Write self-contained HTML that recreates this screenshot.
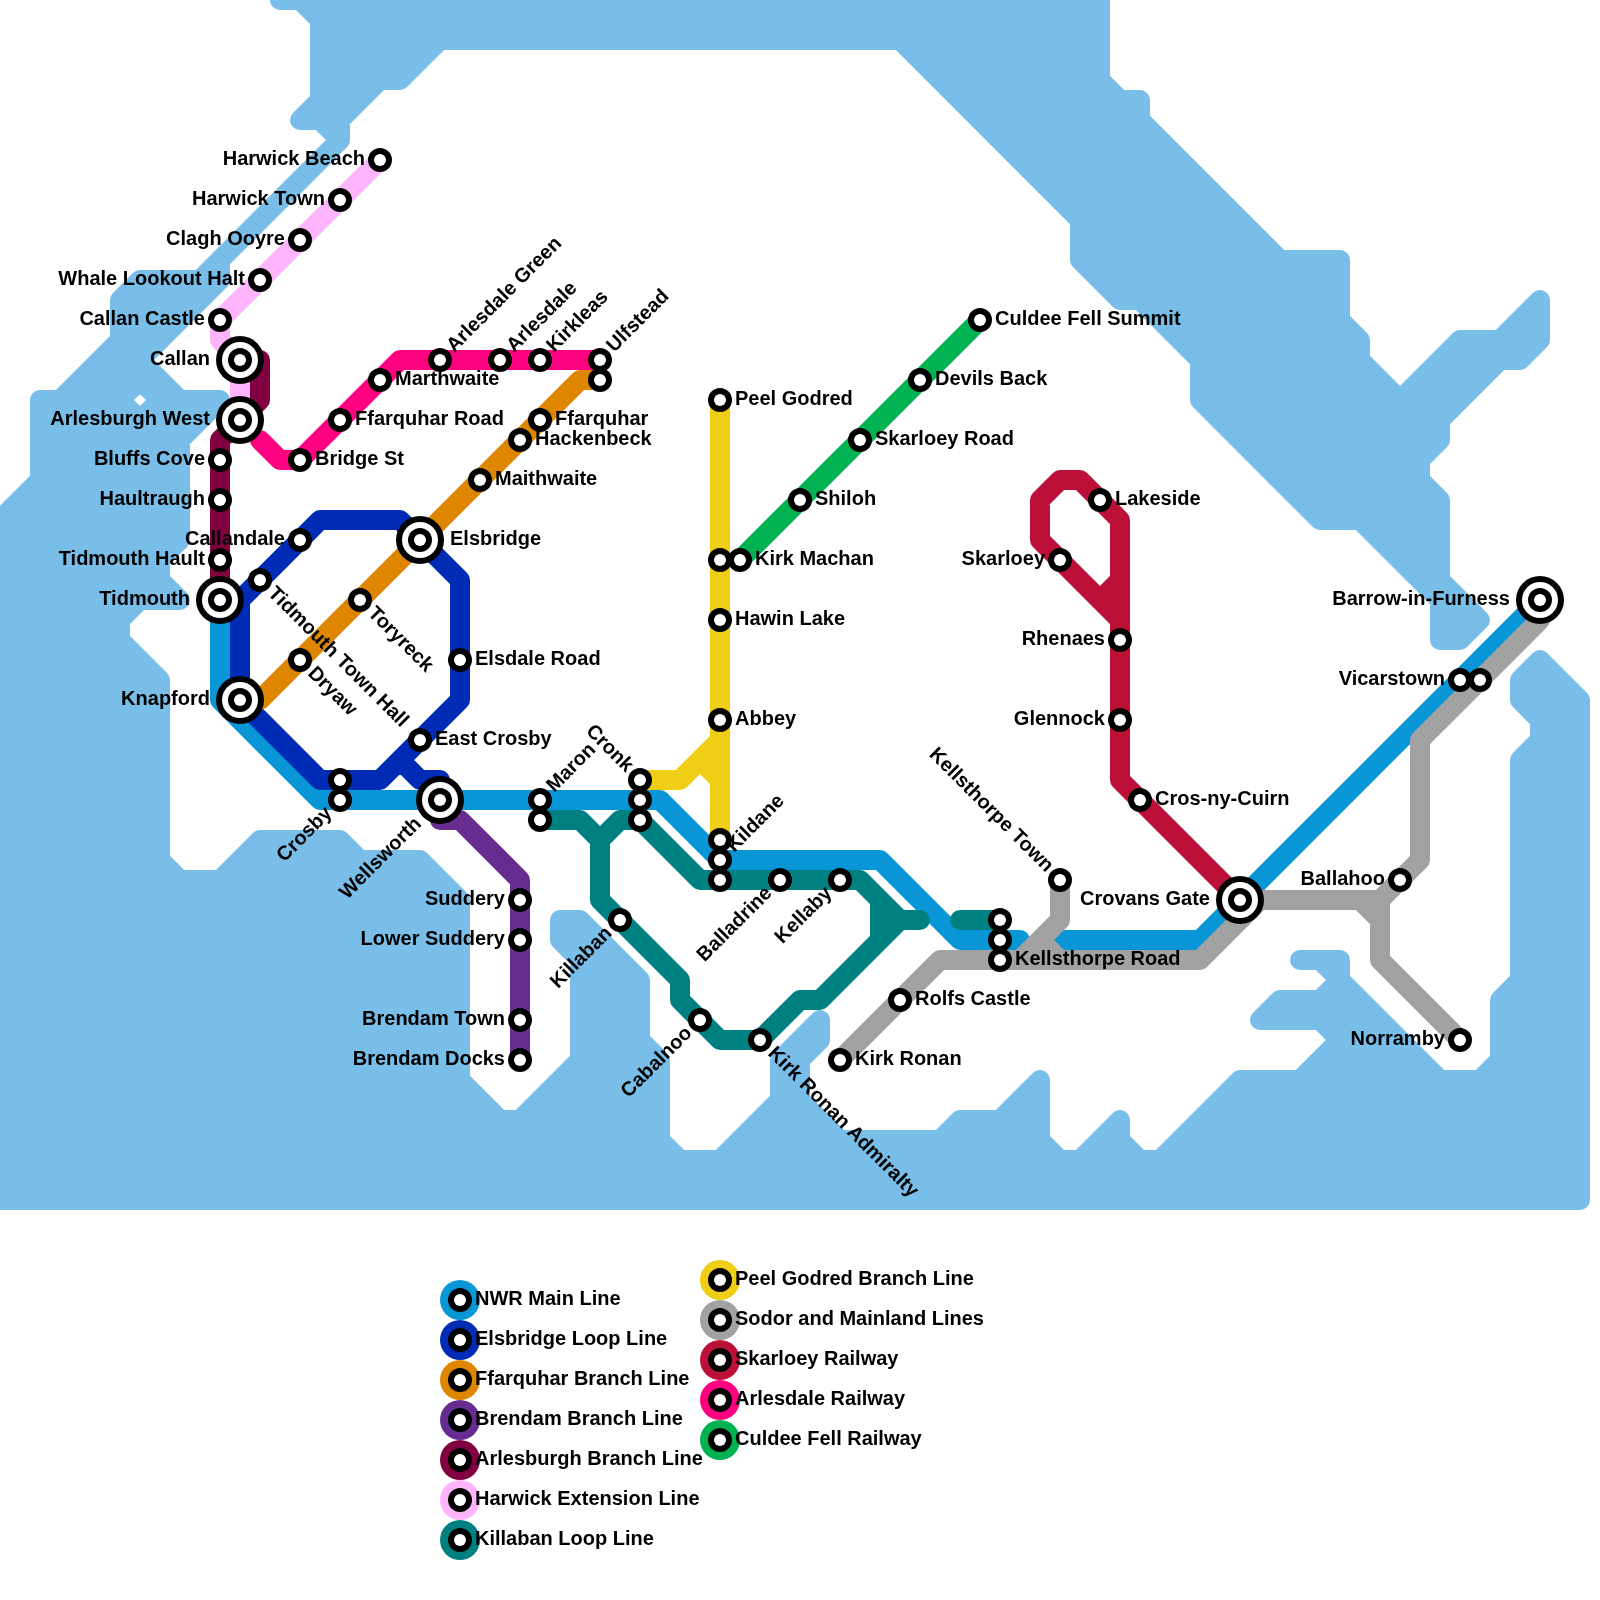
<!DOCTYPE html>
<html lang="en">
<head>
<meta charset="utf-8">
<title>Island of Sodor Railway Map</title>
<style>
html,body{margin:0;padding:0;background:#fff;}
body{width:1600px;height:1600px;overflow:hidden;}
svg{display:block;will-change:transform;}
text{font-family:"Liberation Sans",sans-serif;font-weight:700;font-size:20px;fill:#000;}
.ln{fill:none;stroke-width:20;stroke-linecap:round;stroke-linejoin:round;}
</style>
</head>
<body>
<svg width="1600" height="1600" viewBox="0 0 1600 1600">
<rect width="1600" height="1600" fill="#ffffff"/>
<g id="water"><path class="ln" stroke="#79bde9" d="M0 520L180 520M0 540L180 540M0 560L160 560M0 580L160 580M0 600L180 600M0 620L120 620M0 640L120 640M0 660L140 660M0 680L160 680M0 700L160 700M0 720L160 720M0 740L160 740M0 760L160 760M0 780L160 780M0 800L160 800M0 820L160 820M0 840L160 840M0 860L160 860M0 880L440 880M0 900L460 900M0 920L460 920M0 940L460 940M0 960L460 960M0 980L460 980M0 1000L460 1000M0 1020L460 1020M0 1040L460 1040M0 1060L460 1060M0 1080L460 1080M0 1100L480 1100M0 1120L660 1120M0 1140L660 1140M0 1160L1580 1160M0 1180L1580 1180M0 1200L1580 1200M20 500L180 500M40 400L120 400M40 420L200 420M40 440L180 440M40 460L180 460M40 480L180 480M80 380L160 380M100 360L140 360M120 300L200 300M120 320L180 320M120 340L160 340M140 280L220 280M160 400L220 400M240 860L420 860M260 840L340 840M280 0L1100 0M300 120L340 120M320 20L1100 20M320 40L1100 40M320 60L420 60M320 80L400 80M320 100L360 100M540 1100L660 1100M560 920L580 920M560 940L600 940M560 1080L660 1080M580 960L620 960M580 980L640 980M580 1000L640 1000M580 1020L640 1020M580 1040L640 1040M580 1060L660 1060M740 1140L1040 1140M760 1120L820 1120M780 1060L800 1060M780 1080L800 1080M780 1100L800 1100M800 1040L820 1040M920 60L1100 60M940 80L1100 80M960 100L1140 100M960 1120L1040 1120M980 120L1140 120M1000 140L1160 140M1020 160L1180 160M1020 1100L1040 1100M1040 180L1200 180M1060 200L1220 200M1080 220L1240 220M1080 240L1260 240M1080 260L1340 260M1100 280L1340 280M1100 1140L1120 1140M1120 300L1340 300M1160 320L1340 320M1180 340L1360 340M1180 1140L1580 1140M1200 360L1360 360M1200 380L1380 380M1200 400L1460 400M1200 1120L1580 1120M1220 420L1440 420M1220 1100L1580 1100M1240 440L1440 440M1240 1080L1580 1080M1260 460L1420 460M1260 1020L1380 1020M1280 480L1420 480M1280 1000L1360 1000M1300 500L1440 500M1300 960L1340 960M1320 520L1440 520M1320 1060L1420 1060M1340 1040L1400 1040M1380 540L1440 540M1400 560L1440 560M1420 380L1480 380M1420 580L1440 580M1440 360L1520 360M1440 600L1460 600M1440 620L1480 620M1440 640L1460 640M1460 340L1540 340M1500 1000L1580 1000M1500 1020L1580 1020M1500 1040L1580 1040M1500 1060L1580 1060M1520 320L1540 320M1520 680L1560 680M1520 700L1580 700M1520 760L1580 760M1520 780L1580 780M1520 800L1580 800M1520 820L1580 820M1520 840L1580 840M1520 860L1580 860M1520 880L1580 880M1520 900L1580 900M1520 920L1580 920M1520 940L1580 940M1520 960L1580 960M1520 980L1580 980M1540 720L1580 720M1540 740L1580 740M0 520L0 1200M20 500L20 1200M40 400L40 1200M60 400L60 1200M80 380L80 1200M100 360L100 1200M120 300L120 1200M140 280L140 380M140 420L140 600M140 660L140 1200M160 280L160 340M160 380L160 600M160 680L160 1200M180 280L180 320M180 400L180 540M180 880L180 1200M200 280L200 300M200 400L200 420M200 880L200 1200M220 260L220 280M220 880L220 1200M240 860L240 1200M260 840L260 1200M280 840L280 1200M300 840L300 1200M320 0L320 120M320 840L320 1200M340 0L340 140M340 840L340 1200M360 0L360 100M360 860L360 1200M380 0L380 80M380 860L380 1200M400 0L400 80M400 860L400 1200M420 0L420 60M420 860L420 1200M440 0L440 40M440 880L440 1200M460 0L460 40M460 900L460 1200M480 0L480 40M480 1100L480 1200M500 0L500 40M500 1120L500 1200M520 0L520 40M520 1120L520 1200M540 0L540 40M540 1100L540 1200M560 0L560 40M560 920L560 940M560 1080L560 1200M580 0L580 40M580 920L580 1200M600 0L600 40M600 940L600 1200M620 0L620 40M620 960L620 1200M640 0L640 40M640 980L640 1200M660 0L660 40M660 1060L660 1200M680 0L680 40M680 1160L680 1200M700 0L700 40M700 1160L700 1200M720 0L720 40M720 1160L720 1200M740 0L740 40M740 1140L740 1200M760 0L760 40M760 1120L760 1200M780 0L780 40M780 1060L780 1200M800 0L800 40M800 1040L800 1200M820 0L820 40M820 1020L820 1040M820 1120L820 1200M840 0L840 40M840 1140L840 1200M860 0L860 40M860 1140L860 1200M880 0L880 40M880 1140L880 1200M900 0L900 40M900 1140L900 1200M920 0L920 60M920 1140L920 1200M940 0L940 80M940 1140L940 1200M960 0L960 100M960 1120L960 1200M980 0L980 120M980 1120L980 1200M1000 0L1000 140M1000 1120L1000 1200M1020 0L1020 160M1020 1100L1020 1200M1040 0L1040 180M1040 1080L1040 1200M1060 0L1060 200M1060 1160L1060 1200M1080 0L1080 260M1080 1160L1080 1200M1100 0L1100 280M1100 1140L1100 1200M1120 100L1120 300M1120 1120L1120 1200M1140 100L1140 300M1140 1160L1140 1200M1160 140L1160 320M1160 1160L1160 1200M1180 160L1180 340M1180 1140L1180 1200M1200 180L1200 400M1200 1120L1200 1200M1220 200L1220 420M1220 1100L1220 1200M1240 220L1240 440M1240 1080L1240 1200M1260 240L1260 460M1260 1080L1260 1200M1280 260L1280 480M1280 1000L1280 1020M1280 1080L1280 1200M1300 260L1300 500M1300 1000L1300 1020M1300 1080L1300 1200M1320 260L1320 520M1320 1000L1320 1020M1320 1060L1320 1200M1340 260L1340 520M1340 960L1340 1200M1360 340L1360 520M1360 1000L1360 1200M1380 380L1380 540M1380 1020L1380 1200M1400 400L1400 560M1400 1040L1400 1200M1420 380L1420 580M1420 1060L1420 1200M1440 360L1440 440M1440 500L1440 640M1440 1080L1440 1200M1460 340L1460 400M1460 600L1460 640M1460 1080L1460 1200M1480 340L1480 380M1480 1080L1480 1200M1500 340L1500 360M1500 1000L1500 1200M1520 320L1520 360M1520 680L1520 700M1520 760L1520 1200M1540 300L1540 340M1540 660L1540 1200M1560 680L1560 1200M1580 700L1580 1200M0 520L160 680M0 540L160 700M0 560L160 720M0 580L160 740M0 600L160 760M0 620L160 780M0 640L160 800M0 660L160 820M0 680L160 840M0 700L500 1200M0 720L480 1200M0 740L460 1200M0 760L440 1200M0 780L420 1200M0 800L400 1200M0 820L380 1200M0 840L360 1200M0 860L340 1200M0 880L320 1200M0 900L300 1200M0 920L280 1200M0 940L260 1200M0 960L240 1200M0 980L220 1200M0 1000L200 1200M0 1020L180 1200M0 1040L160 1200M0 1060L140 1200M0 1080L120 1200M0 1100L100 1200M0 1120L80 1200M0 1140L60 1200M0 1160L40 1200M0 1180L20 1200M20 500L120 600M20 520L120 620M40 400L180 540M40 420L160 540M40 440L160 560M40 460L180 600M40 480L160 600M40 500L140 600M60 400L180 520M80 380L180 480M80 400L180 500M100 360L120 380M100 380L180 460M120 300L160 340M120 320L140 340M120 340L200 420M120 360L180 420M140 280L180 320M140 300L160 320M160 280L180 300M160 420L180 440M180 280L200 300M200 880L520 1200M220 880L540 1200M240 860L580 1200M240 880L560 1200M260 840L460 1040M260 860L460 1060M280 840L460 1020M300 0L380 80M300 840L460 1000M320 0L400 80M320 40L360 80M320 60L360 100M320 80L340 100M320 100L340 120M320 120L340 140M320 840L460 980M340 0L400 60M340 840L460 960M360 0L420 60M380 0L420 40M380 860L460 940M400 0L440 40M400 860L460 920M420 0L460 40M420 860L460 900M440 0L480 40M460 0L500 40M480 0L520 40M500 0L540 40M520 0L560 40M520 1120L600 1200M540 0L580 40M540 1100L640 1200M540 1120L620 1200M560 0L600 40M560 920L640 1000M560 940L640 1020M560 1080L680 1200M560 1100L660 1200M580 0L620 40M580 920L640 980M580 980L660 1060M580 1000L660 1080M580 1020L660 1100M580 1040L660 1120M580 1060L720 1200M580 1080L700 1200M600 0L640 40M620 0L660 40M640 0L680 40M660 0L700 40M680 0L720 40M700 0L740 40M700 1160L740 1200M720 0L760 40M720 1160L760 1200M740 0L780 40M740 1140L800 1200M740 1160L780 1200M760 0L800 40M760 1120L840 1200M760 1140L820 1200M780 0L820 40M780 1060L800 1080M780 1080L900 1200M780 1100L880 1200M780 1120L860 1200M800 0L840 40M820 0L860 40M840 0L880 40M860 0L1480 620M860 1140L920 1200M880 0L1440 560M880 1140L940 1200M900 0L1440 540M900 1140L960 1200M920 0L1440 520M920 1140L980 1200M940 0L1440 500M940 1140L1000 1200M960 0L1420 460M960 1120L1040 1200M960 1140L1020 1200M980 0L1420 440M980 1120L1060 1200M1000 0L1440 440M1000 1120L1080 1200M1020 0L1360 340M1020 1100L1040 1120M1020 1120L1100 1200M1040 0L1100 60M1060 0L1100 40M1080 0L1100 20M1080 240L1460 620M1080 260L1120 300M1080 1160L1120 1200M1100 1140L1160 1200M1100 1160L1140 1200M1120 1140L1180 1200M1160 1160L1200 1200M1180 1140L1240 1200M1180 1160L1220 1200M1200 380L1340 520M1200 400L1320 520M1200 1120L1280 1200M1200 1140L1260 1200M1220 1100L1320 1200M1220 1120L1300 1200M1240 1080L1360 1200M1240 1100L1340 1200M1260 1080L1380 1200M1280 1000L1300 1020M1280 1080L1400 1200M1300 260L1340 300M1300 1000L1500 1200M1300 1080L1420 1200M1320 260L1340 280M1320 960L1560 1200M1320 1000L1520 1200M1320 1060L1460 1200M1320 1080L1440 1200M1340 1000L1540 1200M1340 1060L1480 1200M1420 380L1440 400M1420 400L1440 420M1440 360L1460 380M1440 380L1460 400M1440 620L1460 640M1460 340L1480 360M1460 360L1480 380M1460 1080L1580 1200M1480 340L1500 360M1480 1080L1580 1180M1500 340L1520 360M1500 1000L1580 1080M1500 1020L1580 1100M1500 1040L1580 1120M1500 1060L1580 1140M1500 1080L1580 1160M1520 320L1540 340M1520 680L1580 740M1520 700L1580 760M1520 760L1580 820M1520 780L1580 840M1520 800L1580 860M1520 820L1580 880M1520 840L1580 900M1520 860L1580 920M1520 880L1580 940M1520 900L1580 960M1520 920L1580 980M1520 940L1580 1000M1520 960L1580 1020M1520 980L1580 1040M1520 1000L1580 1060M1540 660L1580 700M1540 680L1580 720M1540 740L1580 780M1540 760L1580 800M0 520L140 380M0 540L120 420M0 560L160 400M0 580L180 400M0 600L200 400M0 620L220 400M0 640L180 460M0 660L180 480M0 680L180 500M0 700L180 520M0 720L180 540M0 740L160 580M0 760L120 640M0 780L120 660M0 800L140 660M0 820L140 680M0 840L160 680M0 860L160 700M0 880L160 720M0 900L160 740M0 920L160 760M0 940L160 780M0 960L160 800M0 980L160 820M0 1000L160 840M0 1020L160 860M0 1040L160 880M0 1060L180 880M0 1080L200 880M0 1100L260 840M0 1120L280 840M0 1140L300 840M0 1160L320 840M0 1180L340 840M0 1200L340 860M20 1200L360 860M40 420L180 280M40 440L340 140M40 460L220 280M40 1200L380 860M60 1200L400 860M80 1200L420 860M100 1200L420 880M120 300L140 280M120 320L160 280M120 1200L440 880M140 1200L440 900M160 1200L460 900M180 1200L460 920M200 1200L460 940M220 1200L460 960M240 1200L460 980M260 1200L460 1000M280 1200L460 1020M300 120L420 0M300 1200L460 1040M320 20L340 0M320 40L360 0M320 60L380 0M320 80L400 0M320 120L440 0M320 1200L460 1060M340 120L460 0M340 1200L460 1080M360 1200L460 1100M380 1200L480 1100M400 80L480 0M400 1200L480 1120M420 1200L500 1120M440 1200L640 1000M460 40L500 0M460 1200L640 1020M480 40L520 0M480 1200L640 1040M500 40L540 0M500 1200L640 1060M520 40L560 0M520 1200L660 1060M540 40L580 0M540 1200L660 1080M560 40L600 0M560 940L580 920M560 1200L660 1100M580 40L620 0M580 960L600 940M580 980L600 960M580 1000L620 960M580 1020L620 980M580 1040L640 980M580 1200L660 1120M600 40L640 0M600 1200L660 1140M620 40L660 0M620 1200L660 1160M640 40L680 0M640 1200L680 1160M660 40L700 0M660 1200L700 1160M680 40L720 0M680 1200L800 1080M700 40L740 0M700 1200L800 1100M720 40L760 0M720 1200L800 1120M740 40L780 0M740 1200L820 1120M760 40L800 0M760 1200L820 1140M780 40L820 0M780 1060L820 1020M780 1080L820 1040M780 1200L840 1140M800 40L840 0M800 1200L860 1140M820 40L860 0M820 1200L880 1140M840 40L880 0M840 1200L900 1140M860 40L900 0M860 1200L920 1140M880 40L920 0M880 1200L960 1120M900 40L940 0M900 1200L980 1120M920 40L960 0M920 60L980 0M920 1200L1040 1080M940 60L1000 0M940 80L1020 0M940 1200L1040 1100M960 80L1040 0M960 100L1060 0M960 1200L1040 1120M980 100L1080 0M980 120L1100 0M980 1200L1040 1140M1000 120L1100 20M1000 140L1100 40M1000 1200L1040 1160M1020 140L1100 60M1020 160L1100 80M1020 1200L1060 1160M1040 160L1100 100M1040 180L1120 100M1040 1200L1120 1120M1060 180L1140 100M1060 200L1140 120M1060 1200L1120 1140M1080 200L1140 140M1080 220L1160 140M1080 240L1160 160M1080 260L1180 160M1080 1200L1120 1160M1100 260L1180 180M1100 280L1200 180M1100 1200L1140 1160M1120 280L1200 200M1120 300L1220 200M1120 1200L1240 1080M1140 300L1220 220M1140 1200L1260 1080M1160 300L1240 220M1160 320L1240 240M1160 1200L1280 1080M1180 320L1260 240M1180 340L1260 260M1180 1200L1360 1020M1200 340L1280 260M1200 360L1300 260M1200 380L1320 260M1200 400L1340 260M1200 1200L1380 1020M1220 400L1340 280M1220 420L1340 300M1220 1200L1380 1040M1240 420L1340 320M1240 440L1340 340M1240 1200L1400 1040M1260 440L1360 340M1260 460L1360 360M1260 1020L1280 1000M1260 1200L1400 1060M1280 460L1360 380M1280 480L1380 380M1280 1020L1300 1000M1280 1200L1420 1060M1300 480L1380 400M1300 500L1460 340M1300 1020L1340 980M1300 1200L1420 1080M1320 500L1480 340M1320 520L1540 300M1320 1020L1340 1000M1320 1200L1440 1080M1340 520L1540 320M1340 1020L1360 1000M1340 1200L1460 1080M1360 520L1440 440M1360 1200L1580 980M1380 520L1420 480M1380 540L1420 500M1380 1200L1580 1000M1400 540L1440 500M1400 560L1440 520M1400 1200L1580 1020M1420 560L1440 540M1420 580L1440 560M1420 1200L1580 1040M1440 620L1460 600M1440 640L1460 620M1440 1200L1580 1060M1460 640L1480 620M1460 1200L1580 1080M1480 1200L1580 1100M1500 1000L1580 920M1500 1020L1580 940M1500 1040L1580 960M1500 1200L1580 1120M1520 360L1540 340M1520 680L1540 660M1520 700L1540 680M1520 760L1580 700M1520 780L1580 720M1520 800L1580 740M1520 820L1580 760M1520 840L1580 780M1520 860L1580 800M1520 880L1580 820M1520 900L1580 840M1520 920L1580 860M1520 940L1580 880M1520 960L1580 900M1520 1200L1580 1140M1540 700L1560 680M1540 720L1560 700M1540 1200L1580 1160M1560 1200L1580 1180"/></g>
<g id="lines">
<path class="ln" stroke="#0896d7" d="M320 800L660 800M720 860L880 860M960 940L1020 940M1060 940L1200 940M220 600L220 700M220 700L320 800M660 800L720 860M880 860L960 940M1200 940L1540 600"/>
<path class="ln" stroke="#002bb5" d="M320 520L400 520M320 780L380 780M420 780L440 780M240 600L240 700M460 580L460 700M240 700L320 780M400 520L460 580M400 760L420 780M240 600L320 520M380 780L460 700"/>
<path class="ln" stroke="#df8600" d="M580 380L600 380M260 700L580 380"/>
<path class="ln" stroke="#662c90" d="M440 820L460 820M520 880L520 1060M460 820L520 880"/>
<path class="ln" stroke="#800040" d="M220 440L220 600M260 360L260 400M220 440L260 400"/>
<path class="ln" stroke="#ffb5fc" d="M220 320L220 340M240 360L240 400M220 340L240 360M220 320L380 160"/>
<path class="ln" stroke="#008080" d="M540 820L580 820M620 820L640 820M700 880L860 880M720 1040L760 1040M800 1000L820 1000M880 920L920 920M960 920L1000 920M600 840L600 900M680 980L680 1000M880 900L880 940M580 820L600 840M600 900L680 980M640 820L700 880M680 1000L720 1040M860 880L900 920M600 840L620 820M760 1040L800 1000M820 1000L900 920"/>
<path class="ln" stroke="#f0ce15" d="M640 780L680 780M700 760L720 760M720 400L720 840M700 760L720 780M680 780L720 740"/>
<path class="ln" stroke="#a2a2a2" d="M940 960L1200 960M1260 900L1380 900M1040 940L1040 960M1060 880L1060 920M1380 900L1380 960M1420 740L1420 860M1040 940L1060 960M1360 900L1380 920M1380 960L1460 1040M840 1060L940 960M1020 960L1060 920M1200 960L1260 900M1380 900L1420 860M1420 740L1540 620"/>
<path class="ln" stroke="#bd1038" d="M1060 480L1080 480M1100 600L1120 600M1040 500L1040 540M1120 520L1120 780M1040 540L1120 620M1080 480L1120 520M1120 780L1240 900M1040 500L1060 480M1100 600L1120 580"/>
<path class="ln" stroke="#ff0080" d="M280 460L300 460M400 360L600 360M260 440L280 460M300 460L400 360"/>
<path class="ln" stroke="#00b251" d="M740 560L980 320"/>
</g>
<g id="legend-dots"><circle cx="460" cy="1300" r="20" fill="#0896d7"/><circle cx="460" cy="1340" r="20" fill="#002bb5"/><circle cx="460" cy="1380" r="20" fill="#df8600"/><circle cx="460" cy="1420" r="20" fill="#662c90"/><circle cx="460" cy="1460" r="20" fill="#800040"/><circle cx="460" cy="1500" r="20" fill="#ffb5fc"/><circle cx="460" cy="1540" r="20" fill="#008080"/><circle cx="720" cy="1280" r="20" fill="#f0ce15"/><circle cx="720" cy="1320" r="20" fill="#a2a2a2"/><circle cx="720" cy="1360" r="20" fill="#bd1038"/><circle cx="720" cy="1400" r="20" fill="#ff0080"/><circle cx="720" cy="1440" r="20" fill="#00b251"/></g>
<g id="stations">
<circle cx="380" cy="160" r="12" fill="#000"/><circle cx="380" cy="160" r="6" fill="#fff"/><text x="365" y="165" text-anchor="end">Harwick Beach</text>
<circle cx="340" cy="200" r="12" fill="#000"/><circle cx="340" cy="200" r="6" fill="#fff"/><text x="325" y="205" text-anchor="end">Harwick Town</text>
<circle cx="300" cy="240" r="12" fill="#000"/><circle cx="300" cy="240" r="6" fill="#fff"/><text x="285" y="245" text-anchor="end">Clagh Ooyre</text>
<circle cx="260" cy="280" r="12" fill="#000"/><circle cx="260" cy="280" r="6" fill="#fff"/><text x="245" y="285" text-anchor="end">Whale Lookout Halt</text>
<circle cx="220" cy="320" r="12" fill="#000"/><circle cx="220" cy="320" r="6" fill="#fff"/><text x="205" y="325" text-anchor="end">Callan Castle</text>
<circle cx="240" cy="360" r="24" fill="#000"/><circle cx="240" cy="360" r="18" fill="#fff"/><circle cx="240" cy="360" r="12" fill="#000"/><circle cx="240" cy="360" r="6" fill="#fff"/><text x="210" y="365" text-anchor="end">Callan</text>
<circle cx="240" cy="420" r="24" fill="#000"/><circle cx="240" cy="420" r="18" fill="#fff"/><circle cx="240" cy="420" r="12" fill="#000"/><circle cx="240" cy="420" r="6" fill="#fff"/><text x="210" y="425" text-anchor="end">Arlesburgh West</text>
<circle cx="220" cy="460" r="12" fill="#000"/><circle cx="220" cy="460" r="6" fill="#fff"/><text x="205" y="465" text-anchor="end">Bluffs Cove</text>
<circle cx="220" cy="500" r="12" fill="#000"/><circle cx="220" cy="500" r="6" fill="#fff"/><text x="205" y="505" text-anchor="end">Haultraugh</text>
<circle cx="220" cy="560" r="12" fill="#000"/><circle cx="220" cy="560" r="6" fill="#fff"/><text x="205" y="565" text-anchor="end">Tidmouth Hault</text>
<circle cx="220" cy="600" r="24" fill="#000"/><circle cx="220" cy="600" r="18" fill="#fff"/><circle cx="220" cy="600" r="12" fill="#000"/><circle cx="220" cy="600" r="6" fill="#fff"/><text x="190" y="605" text-anchor="end">Tidmouth</text>
<circle cx="240" cy="700" r="24" fill="#000"/><circle cx="240" cy="700" r="18" fill="#fff"/><circle cx="240" cy="700" r="12" fill="#000"/><circle cx="240" cy="700" r="6" fill="#fff"/><text x="210" y="705" text-anchor="end">Knapford</text>
<circle cx="300" cy="540" r="12" fill="#000"/><circle cx="300" cy="540" r="6" fill="#fff"/><text x="285" y="545" text-anchor="end">Callandale</text>
<circle cx="260" cy="580" r="12" fill="#000"/><circle cx="260" cy="580" r="6" fill="#fff"/><text transform="translate(260 580) rotate(45)" x="15" y="5">Tidmouth Town Hall</text>
<circle cx="360" cy="600" r="12" fill="#000"/><circle cx="360" cy="600" r="6" fill="#fff"/><text transform="translate(360 600) rotate(45)" x="15" y="5">Toryreck</text>
<circle cx="300" cy="660" r="12" fill="#000"/><circle cx="300" cy="660" r="6" fill="#fff"/><text transform="translate(300 660) rotate(45)" x="15" y="5">Dryaw</text>
<circle cx="420" cy="540" r="24" fill="#000"/><circle cx="420" cy="540" r="18" fill="#fff"/><circle cx="420" cy="540" r="12" fill="#000"/><circle cx="420" cy="540" r="6" fill="#fff"/><text x="450" y="545">Elsbridge</text>
<circle cx="460" cy="660" r="12" fill="#000"/><circle cx="460" cy="660" r="6" fill="#fff"/><text x="475" y="665">Elsdale Road</text>
<circle cx="420" cy="740" r="12" fill="#000"/><circle cx="420" cy="740" r="6" fill="#fff"/><text x="435" y="745">East Crosby</text>
<circle cx="340" cy="780" r="12" fill="#000"/><circle cx="340" cy="780" r="6" fill="#fff"/>
<circle cx="340" cy="800" r="12" fill="#000"/><circle cx="340" cy="800" r="6" fill="#fff"/><text transform="translate(340 800) rotate(-45)" x="-15" y="5" text-anchor="end">Crosby</text>
<circle cx="440" cy="800" r="24" fill="#000"/><circle cx="440" cy="800" r="18" fill="#fff"/><circle cx="440" cy="800" r="12" fill="#000"/><circle cx="440" cy="800" r="6" fill="#fff"/><text transform="translate(440 800) rotate(-45)" x="-30" y="5" text-anchor="end">Wellsworth</text>
<circle cx="300" cy="460" r="12" fill="#000"/><circle cx="300" cy="460" r="6" fill="#fff"/><text x="315" y="465">Bridge St</text>
<circle cx="340" cy="420" r="12" fill="#000"/><circle cx="340" cy="420" r="6" fill="#fff"/><text x="355" y="425">Ffarquhar Road</text>
<circle cx="380" cy="380" r="12" fill="#000"/><circle cx="380" cy="380" r="6" fill="#fff"/><text x="395" y="385">Marthwaite</text>
<circle cx="440" cy="360" r="12" fill="#000"/><circle cx="440" cy="360" r="6" fill="#fff"/><text transform="translate(440 360) rotate(-45)" x="15" y="5">Arlesdale Green</text>
<circle cx="500" cy="360" r="12" fill="#000"/><circle cx="500" cy="360" r="6" fill="#fff"/><text transform="translate(500 360) rotate(-45)" x="15" y="5">Arlesdale</text>
<circle cx="540" cy="360" r="12" fill="#000"/><circle cx="540" cy="360" r="6" fill="#fff"/><text transform="translate(540 360) rotate(-45)" x="15" y="5">Kirkleas</text>
<circle cx="600" cy="360" r="12" fill="#000"/><circle cx="600" cy="360" r="6" fill="#fff"/><text transform="translate(600 360) rotate(-45)" x="15" y="5">Ulfstead</text>
<circle cx="600" cy="380" r="12" fill="#000"/><circle cx="600" cy="380" r="6" fill="#fff"/>
<circle cx="540" cy="420" r="12" fill="#000"/><circle cx="540" cy="420" r="6" fill="#fff"/><text x="555" y="425">Ffarquhar</text>
<circle cx="520" cy="440" r="12" fill="#000"/><circle cx="520" cy="440" r="6" fill="#fff"/><text x="535" y="445">Hackenbeck</text>
<circle cx="480" cy="480" r="12" fill="#000"/><circle cx="480" cy="480" r="6" fill="#fff"/><text x="495" y="485">Maithwaite</text>
<circle cx="720" cy="400" r="12" fill="#000"/><circle cx="720" cy="400" r="6" fill="#fff"/><text x="735" y="405">Peel Godred</text>
<circle cx="720" cy="560" r="12" fill="#000"/><circle cx="720" cy="560" r="6" fill="#fff"/>
<circle cx="740" cy="560" r="12" fill="#000"/><circle cx="740" cy="560" r="6" fill="#fff"/><text x="755" y="565">Kirk Machan</text>
<circle cx="720" cy="620" r="12" fill="#000"/><circle cx="720" cy="620" r="6" fill="#fff"/><text x="735" y="625">Hawin Lake</text>
<circle cx="720" cy="720" r="12" fill="#000"/><circle cx="720" cy="720" r="6" fill="#fff"/><text x="735" y="725">Abbey</text>
<circle cx="720" cy="840" r="12" fill="#000"/><circle cx="720" cy="840" r="6" fill="#fff"/>
<circle cx="720" cy="860" r="12" fill="#000"/><circle cx="720" cy="860" r="6" fill="#fff"/><text transform="translate(720 860) rotate(-45)" x="15" y="5">Kildane</text>
<circle cx="720" cy="880" r="12" fill="#000"/><circle cx="720" cy="880" r="6" fill="#fff"/>
<circle cx="640" cy="780" r="12" fill="#000"/><circle cx="640" cy="780" r="6" fill="#fff"/><text transform="translate(640 780) rotate(45)" x="-15" y="5" text-anchor="end">Cronk</text>
<circle cx="640" cy="800" r="12" fill="#000"/><circle cx="640" cy="800" r="6" fill="#fff"/>
<circle cx="640" cy="820" r="12" fill="#000"/><circle cx="640" cy="820" r="6" fill="#fff"/>
<circle cx="540" cy="800" r="12" fill="#000"/><circle cx="540" cy="800" r="6" fill="#fff"/><text transform="translate(540 800) rotate(-45)" x="15" y="5">Maron</text>
<circle cx="540" cy="820" r="12" fill="#000"/><circle cx="540" cy="820" r="6" fill="#fff"/>
<circle cx="980" cy="320" r="12" fill="#000"/><circle cx="980" cy="320" r="6" fill="#fff"/><text x="995" y="325">Culdee Fell Summit</text>
<circle cx="920" cy="380" r="12" fill="#000"/><circle cx="920" cy="380" r="6" fill="#fff"/><text x="935" y="385">Devils Back</text>
<circle cx="860" cy="440" r="12" fill="#000"/><circle cx="860" cy="440" r="6" fill="#fff"/><text x="875" y="445">Skarloey Road</text>
<circle cx="800" cy="500" r="12" fill="#000"/><circle cx="800" cy="500" r="6" fill="#fff"/><text x="815" y="505">Shiloh</text>
<circle cx="1100" cy="500" r="12" fill="#000"/><circle cx="1100" cy="500" r="6" fill="#fff"/><text x="1115" y="505">Lakeside</text>
<circle cx="1060" cy="560" r="12" fill="#000"/><circle cx="1060" cy="560" r="6" fill="#fff"/><text x="1045" y="565" text-anchor="end">Skarloey</text>
<circle cx="1120" cy="640" r="12" fill="#000"/><circle cx="1120" cy="640" r="6" fill="#fff"/><text x="1105" y="645" text-anchor="end">Rhenaes</text>
<circle cx="1120" cy="720" r="12" fill="#000"/><circle cx="1120" cy="720" r="6" fill="#fff"/><text x="1105" y="725" text-anchor="end">Glennock</text>
<circle cx="1140" cy="800" r="12" fill="#000"/><circle cx="1140" cy="800" r="6" fill="#fff"/><text x="1155" y="805">Cros-ny-Cuirn</text>
<circle cx="1240" cy="900" r="24" fill="#000"/><circle cx="1240" cy="900" r="18" fill="#fff"/><circle cx="1240" cy="900" r="12" fill="#000"/><circle cx="1240" cy="900" r="6" fill="#fff"/><text x="1210" y="905" text-anchor="end">Crovans Gate</text>
<circle cx="1540" cy="600" r="24" fill="#000"/><circle cx="1540" cy="600" r="18" fill="#fff"/><circle cx="1540" cy="600" r="12" fill="#000"/><circle cx="1540" cy="600" r="6" fill="#fff"/><text x="1510" y="605" text-anchor="end">Barrow-in-Furness</text>
<circle cx="1460" cy="680" r="12" fill="#000"/><circle cx="1460" cy="680" r="6" fill="#fff"/><text x="1445" y="685" text-anchor="end">Vicarstown</text>
<circle cx="1480" cy="680" r="12" fill="#000"/><circle cx="1480" cy="680" r="6" fill="#fff"/>
<circle cx="1400" cy="880" r="12" fill="#000"/><circle cx="1400" cy="880" r="6" fill="#fff"/><text x="1385" y="885" text-anchor="end">Ballahoo</text>
<circle cx="1460" cy="1040" r="12" fill="#000"/><circle cx="1460" cy="1040" r="6" fill="#fff"/><text x="1445" y="1045" text-anchor="end">Norramby</text>
<circle cx="1060" cy="880" r="12" fill="#000"/><circle cx="1060" cy="880" r="6" fill="#fff"/><text transform="translate(1060 880) rotate(45)" x="-15" y="5" text-anchor="end">Kellsthorpe Town</text>
<circle cx="1000" cy="920" r="12" fill="#000"/><circle cx="1000" cy="920" r="6" fill="#fff"/>
<circle cx="1000" cy="940" r="12" fill="#000"/><circle cx="1000" cy="940" r="6" fill="#fff"/>
<circle cx="1000" cy="960" r="12" fill="#000"/><circle cx="1000" cy="960" r="6" fill="#fff"/><text x="1015" y="965">Kellsthorpe Road</text>
<circle cx="900" cy="1000" r="12" fill="#000"/><circle cx="900" cy="1000" r="6" fill="#fff"/><text x="915" y="1005">Rolfs Castle</text>
<circle cx="840" cy="1060" r="12" fill="#000"/><circle cx="840" cy="1060" r="6" fill="#fff"/><text x="855" y="1065">Kirk Ronan</text>
<circle cx="780" cy="880" r="12" fill="#000"/><circle cx="780" cy="880" r="6" fill="#fff"/><text transform="translate(780 880) rotate(-45)" x="-15" y="5" text-anchor="end">Balladrine</text>
<circle cx="840" cy="880" r="12" fill="#000"/><circle cx="840" cy="880" r="6" fill="#fff"/><text transform="translate(840 880) rotate(-45)" x="-15" y="5" text-anchor="end">Kellaby</text>
<circle cx="620" cy="920" r="12" fill="#000"/><circle cx="620" cy="920" r="6" fill="#fff"/><text transform="translate(620 920) rotate(-45)" x="-15" y="5" text-anchor="end">Killaban</text>
<circle cx="700" cy="1020" r="12" fill="#000"/><circle cx="700" cy="1020" r="6" fill="#fff"/><text transform="translate(700 1020) rotate(-45)" x="-15" y="5" text-anchor="end">Cabalnoo</text>
<circle cx="760" cy="1040" r="12" fill="#000"/><circle cx="760" cy="1040" r="6" fill="#fff"/><text transform="translate(760 1040) rotate(45)" x="15" y="5">Kirk Ronan Admiralty</text>
<circle cx="520" cy="900" r="12" fill="#000"/><circle cx="520" cy="900" r="6" fill="#fff"/><text x="505" y="905" text-anchor="end">Suddery</text>
<circle cx="520" cy="940" r="12" fill="#000"/><circle cx="520" cy="940" r="6" fill="#fff"/><text x="505" y="945" text-anchor="end">Lower Suddery</text>
<circle cx="520" cy="1020" r="12" fill="#000"/><circle cx="520" cy="1020" r="6" fill="#fff"/><text x="505" y="1025" text-anchor="end">Brendam Town</text>
<circle cx="520" cy="1060" r="12" fill="#000"/><circle cx="520" cy="1060" r="6" fill="#fff"/><text x="505" y="1065" text-anchor="end">Brendam Docks</text>
</g>
<g id="legend">
<circle cx="460" cy="1300" r="12" fill="#000"/><circle cx="460" cy="1300" r="6" fill="#fff"/><text x="475" y="1305">NWR Main Line</text>
<circle cx="460" cy="1340" r="12" fill="#000"/><circle cx="460" cy="1340" r="6" fill="#fff"/><text x="475" y="1345">Elsbridge Loop Line</text>
<circle cx="460" cy="1380" r="12" fill="#000"/><circle cx="460" cy="1380" r="6" fill="#fff"/><text x="475" y="1385">Ffarquhar Branch Line</text>
<circle cx="460" cy="1420" r="12" fill="#000"/><circle cx="460" cy="1420" r="6" fill="#fff"/><text x="475" y="1425">Brendam Branch Line</text>
<circle cx="460" cy="1460" r="12" fill="#000"/><circle cx="460" cy="1460" r="6" fill="#fff"/><text x="475" y="1465">Arlesburgh Branch Line</text>
<circle cx="460" cy="1500" r="12" fill="#000"/><circle cx="460" cy="1500" r="6" fill="#fff"/><text x="475" y="1505">Harwick Extension Line</text>
<circle cx="460" cy="1540" r="12" fill="#000"/><circle cx="460" cy="1540" r="6" fill="#fff"/><text x="475" y="1545">Killaban Loop Line</text>
<circle cx="720" cy="1280" r="12" fill="#000"/><circle cx="720" cy="1280" r="6" fill="#fff"/><text x="735" y="1285">Peel Godred Branch Line</text>
<circle cx="720" cy="1320" r="12" fill="#000"/><circle cx="720" cy="1320" r="6" fill="#fff"/><text x="735" y="1325">Sodor and Mainland Lines</text>
<circle cx="720" cy="1360" r="12" fill="#000"/><circle cx="720" cy="1360" r="6" fill="#fff"/><text x="735" y="1365">Skarloey Railway</text>
<circle cx="720" cy="1400" r="12" fill="#000"/><circle cx="720" cy="1400" r="6" fill="#fff"/><text x="735" y="1405">Arlesdale Railway</text>
<circle cx="720" cy="1440" r="12" fill="#000"/><circle cx="720" cy="1440" r="6" fill="#fff"/><text x="735" y="1445">Culdee Fell Railway</text>
</g>
</svg>
</body>
</html>
